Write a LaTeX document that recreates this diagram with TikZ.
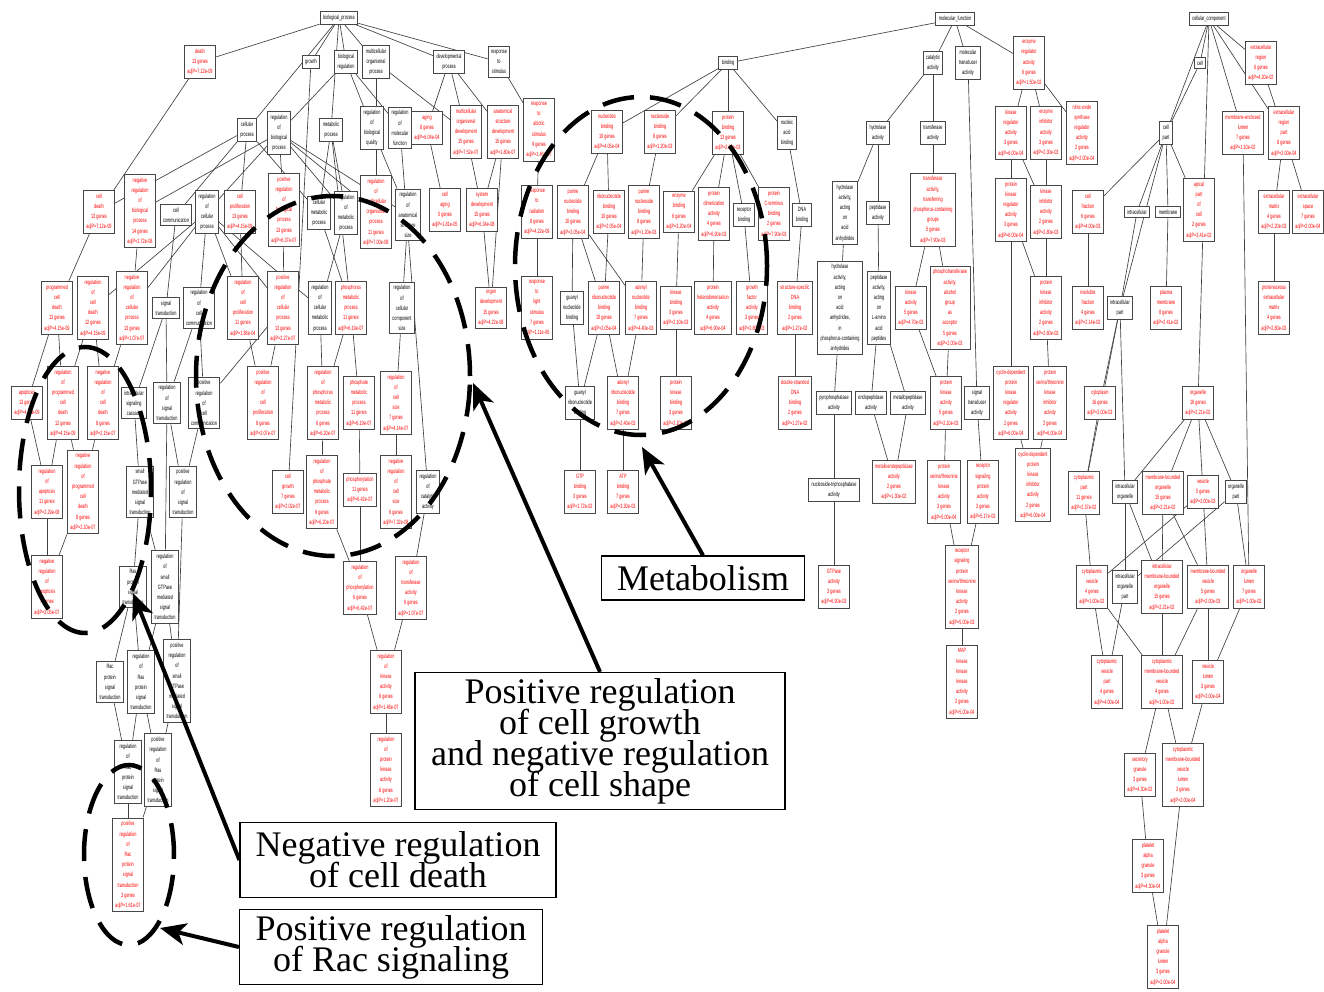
\documentclass[tikz,border=0pt]{standalone}
\usepackage{fontspec}
\setmainfont{Liberation Serif}
\newfontfamily\nf[FakeStretch=0.62]{Liberation Sans}
\newcommand\annfont{\fontsize{36}{31}\selectfont\lineskiplimit=-60pt\relax}
\usetikzlibrary{arrows.meta}
\pgfdeclarelayer{edgelayer}
\pgfsetlayers{edgelayer,main}
\begin{document}
\begin{tikzpicture}[x=1pt,y=-1pt,
 gb/.style={draw=black!72,line width=1pt,fill=white,align=center,font=\nf\fontsize{6.2}{10.2}\selectfont,inner xsep=3pt,inner ysep=3.3pt},
 rb/.style={gb,text=red},
 ed/.style={draw=black!75,line width=0.65pt},
 dsh/.style={line width=4.5pt,dash pattern=on 32pt off 16pt},
 arr/.style={line width=4pt,-{Stealth[length=26pt,width=22pt,inset=7pt]}},
 ann/.style={draw,line width=1.2pt,fill=white,align=center,font=\annfont,inner sep=0pt}]
\useasboundingbox (0,0) rectangle (1324,992);
% ---------------- biological process
\node[gb] (bp) at (339,18) {biological\_process};
\node[rb] (death) at (200,62) {death\\13 genes\\adjP=7.12e-09};
\node[gb] (growth) at (311,62) {growth};
\node[gb] (bioreg) at (346,62) {biological\\regulation};
\node[gb] (multorg) at (376,62) {multicellular\\organismal\\process};
\node[gb] (devproc) at (449,62) {developmental\\process};
\node[gb] (resp) at (499,62) {response\\to\\stimulus};
\node[gb] (cellproc) at (247,130) {cellular\\process};
\node[gb] (regbp) at (279,133) {regulation\\of\\biological\\process};
\node[gb] (metab) at (331,130) {metabolic\\process};
\node[gb] (regbq) at (372,128) {regulation\\of\\biological\\quality};
\node[gb] (regmf) at (400,128) {regulation\\of\\molecular\\function};
\node[rb] (aging) at (427,128) {aging\\8 genes\\adjP=6.04e-04};
\node[rb] (multdev) at (466,132) {multicellular\\organismal\\development\\15 genes\\adjP=7.52e-07};
\node[rb] (anatdev) at (503,132) {anatomical\\structure\\development\\15 genes\\adjP=1.80e-07};
\node[rb] (respabio) at (539,130) {response\\to\\abiotic\\stimulus\\9 genes\\adjP=1.46e-07};
\node[rb] (celldeath) at (99,212) {cell\\death\\13 genes\\adjP=7.12e-09};
\node[rb] (negregbp) at (140,211) {negative\\regulation\\of\\biological\\process\\14 genes\\adjP=2.72e-08};
\node[gb] (cellcomm) at (176,215) {cell\\communication};
\node[gb] (regcellproc) at (207,212) {regulation\\of\\cellular\\process};
\node[rb] (cellprolif) at (240,212) {cell\\proliferation\\13 genes\\adjP=4.15e-09};
\node[rb] (posregbp) at (284,210) {positive\\regulation\\of\\biological\\process\\13 genes\\adjP=6.37e-07};
\node[gb] (cellmetab) at (319,213) {cellular\\metabolic\\process};
\node[gb] (regmetab) at (346,213) {regulation\\of\\metabolic\\process};
\node[rb] (regmultorg) at (376,212) {regulation\\of\\multicellular\\organismal\\process\\11 genes\\adjP=7.00e-08};
\node[gb] (reganat) at (408,215) {regulation\\of\\anatomical\\structure\\size};
\node[rb] (cellaging) at (445,210) {cell\\aging\\5 genes\\adjP=1.81e-05};
\node[rb] (sysdev) at (482,210) {system\\development\\15 genes\\adjP=6.34e-08};
\node[rb] (resprad) at (537,212) {response\\to\\radiation\\8 genes\\adjP=4.22e-09};
\node[rb] (progcelldeath) at (57,308) {programmed\\cell\\death\\13 genes\\adjP=4.15e-09};
\node[rb] (regcelldeath) at (93,308) {regulation\\of\\cell\\death\\12 genes\\adjP=4.15e-09};
\node[rb] (negregcellproc) at (132,308) {negative\\regulation\\of\\cellular\\process\\13 genes\\adjP=1.07e-07};
\node[gb] (sigtrans) at (166,308) {signal\\transduction};
\node[gb] (regcellcomm) at (199,308) {regulation\\of\\cell\\communication};
\node[rb] (regcellprolif) at (243,308) {regulation\\of\\cell\\proliferation\\11 genes\\adjP=1.86e-04};
\node[rb] (posregcellproc) at (283,308) {positive\\regulation\\of\\cellular\\process\\13 genes\\adjP=2.27e-07};
\node[gb] (regcellmetab) at (320,308) {regulation\\of\\cellular\\metabolic\\process};
\node[rb] (phosmetab) at (351,308) {phosphorus\\metabolic\\process\\11 genes\\adjP=6.19e-07};
\node[gb] (regcellcompsize) at (402,308) {regulation\\of\\cellular\\component\\size};
\node[rb] (organdev) at (491,308) {organ\\development\\15 genes\\adjP=4.22e-08};
\node[rb] (resplight) at (537,308) {response\\to\\light\\stimulus\\7 genes\\adjP=1.11e-06};
\node[rb] (apoptosis) at (27,403) {apoptosis\\13 genes\\adjP=4.15e-09};
\node[rb] (regprogcelldeath) at (63,403) {regulation\\of\\programmed\\cell\\death\\12 genes\\adjP=4.15e-09};
\node[rb] (negregcelldeath) at (103,403) {negative\\regulation\\of\\cell\\death\\8 genes\\adjP=2.15e-07};
\node[gb] (intracellsig) at (134,403) {intracellular\\signaling\\cascade};
\node[gb] (regsigtrans) at (167,403) {regulation\\of\\signal\\transduction};
\node[gb] (posregcellcomm) at (204,403) {positive\\regulation\\of\\cell\\communication};
\node[rb] (posregcellprolif) at (263,403) {positive\\regulation\\of\\cell\\proliferation\\8 genes\\adjP=2.07e-07};
\node[rb] (regphosmetab) at (323,403) {regulation\\of\\phosphorus\\metabolic\\process\\6 genes\\adjP=6.20e-07};
\node[rb] (phosphatemetab) at (359,403) {phosphate\\metabolic\\process\\11 genes\\adjP=6.19e-07};
\node[rb] (regcellsize) at (396,403) {regulation\\of\\cell\\size\\7 genes\\adjP=4.14e-07};
\node[rb] (regapoptosis) at (47,492) {regulation\\of\\apoptosis\\11 genes\\adjP=2.29e-08};
\node[rb] (negregprogcelldeath) at (83,492) {negative\\regulation\\of\\programmed\\cell\\death\\8 genes\\adjP=2.10e-07};
\node[gb] (smallgtpase) at (140,492) {small\\GTPase\\mediated\\signal\\transduction};
\node[gb] (posregsigtrans) at (183,492) {positive\\regulation\\of\\signal\\transduction};
\node[rb] (cellgrowth) at (288,492) {cell\\growth\\7 genes\\adjP=2.02e-07};
\node[rb] (regphosphatemetab) at (322,492) {regulation\\of\\phosphate\\metabolic\\process\\6 genes\\adjP=6.20e-07};
\node[rb] (phosphorylation) at (360,490) {phosphorylation\\11 genes\\adjP=6.42e-07};
\node[rb] (negregcellsize) at (396,492) {negative\\regulation\\of\\cell\\size\\6 genes\\adjP=7.32e-08};
\node[gb] (regcatalytic) at (428,492) {regulation\\of\\catalytic\\activity};
\node[rb] (negregapoptosis) at (47,587) {negative\\regulation\\of\\apoptosis\\7 genes\\adjP=2.05e-07};
\node[gb] (rasprot) at (133,587) {Ras\\protein\\signal\\transduction};
\node[gb] (regsmallgtpase) at (165,587) {regulation\\of\\small\\GTPase\\mediated\\signal\\transduction};
\node[rb] (regphosphorylation) at (360,588) {regulation\\of\\phosphorylation\\6 genes\\adjP=6.42e-07};
\node[rb] (regtransferase) at (411,588) {regulation\\of\\transferase\\activity\\6 genes\\adjP=1.07e-07};
\node[gb] (racprot) at (110,682) {Rac\\protein\\signal\\transduction};
\node[gb] (regrasprot) at (141,682) {regulation\\of\\Ras\\protein\\signal\\transduction};
\node[gb] (posregsmallgtpase) at (177,681) {positive\\regulation\\of\\small\\GTPase\\mediated\\signal\\transduction};
\node[rb] (regkinase) at (386,682) {regulation\\of\\kinase\\activity\\6 genes\\adjP=1.48e-07};
\node[gb] (regracprot) at (128,772) {regulation\\of\\Rac\\protein\\signal\\transduction};
\node[gb] (posregrasprot) at (158,770) {positive\\regulation\\of\\Ras\\protein\\signal\\transduction};
\node[rb] (regproteinkinase) at (386,770) {regulation\\of\\protein\\kinase\\activity\\6 genes\\adjP=1.20e-07};
\node[rb] (posregracprot) at (128,865) {positive\\regulation\\of\\Rac\\protein\\signal\\transduction\\3 genes\\adjP=1.61e-07};
% ---------------- molecular function
\node[gb] (mf) at (955,19) {molecular\_function};
\node[gb] (binding) at (728,63) {binding};
\node[gb] (catact) at (933,63) {catalytic\\activity};
\node[gb] (moltrans) at (968,63) {molecular\\transducer\\activity};
\node[rb] (enzreg) at (1029,63) {enzyme\\regulator\\activity\\6 genes\\adjP=1.50e-02};
\node[rb] (nucbind) at (607,132) {nucleotide\\binding\\10 genes\\adjP=4.05e-04};
\node[rb] (nucsbind) at (660,132) {nucleoside\\binding\\8 genes\\adjP=1.20e-03};
\node[rb] (protbind) at (728,133) {protein\\binding\\13 genes\\adjP=2.00e-03};
\node[gb] (nabind) at (787,133) {nucleic\\acid\\binding};
\node[gb] (hydrol) at (878,133) {hydrolase\\activity};
\node[gb] (transf) at (933,133) {transferase\\activity};
\node[rb] (kinasereg) at (1011,133) {kinase\\regulator\\activity\\3 genes\\adjP=6.00e-04};
\node[rb] (enzinhib) at (1046,133) {enzyme\\inhibitor\\activity\\3 genes\\adjP=2.30e-03};
\node[rb] (nitricox) at (1082,133) {nitric-oxide\\synthase\\regulator\\activity\\2 genes\\adjP=2.00e-04};
\node[rb] (purnucbind) at (573,212) {purine\\nucleotide\\binding\\10 genes\\adjP=2.05e-04};
\node[rb] (ribonucbind) at (609,212) {ribonucleotide\\binding\\10 genes\\adjP=2.05e-04};
\node[rb] (purnucsbind) at (644,212) {purine\\nucleoside\\binding\\8 genes\\adjP=1.20e-03};
\node[rb] (enzbind) at (679,212) {enzyme\\binding\\6 genes\\adjP=3.20e-04};
\node[rb] (protdimer) at (714,214) {protein\\dimerization\\activity\\4 genes\\adjP=6.90e-03};
\node[gb] (recbind) at (744,215) {receptor\\binding};
\node[rb] (protcterm) at (774,214) {protein\\C-terminus\\binding\\2 genes\\adjP=7.90e-03};
\node[gb] (dnabind) at (802,215) {DNA\\binding};
\node[gb] (hydrolacid) at (845,213) {hydrolase\\activity,\\acting\\on\\acid\\anhydrides};
\node[gb] (peptidase) at (878,213) {peptidase\\activity};
\node[rb] (transfphos) at (933,210) {transferase\\activity,\\transferring\\phosphorus-containing\\groups\\5 genes\\adjP=7.90e-03};
\node[rb] (protkinreg) at (1011,210) {protein\\kinase\\regulator\\activity\\3 genes\\adjP=6.00e-04};
\node[rb] (kinaseinhib) at (1046,212) {kinase\\inhibitor\\activity\\2 genes\\adjP=2.80e-03};
\node[gb] (guanylnuc) at (572,308) {guanyl\\nucleotide\\binding};
\node[rb] (purribonuc) at (604,308) {purine\\ribonucleotide\\binding\\10 genes\\adjP=2.05e-04};
\node[rb] (adenylnuc) at (641,308) {adenyl\\nucleotide\\binding\\7 genes\\adjP=4.40e-03};
\node[rb] (kinasebind) at (676,308) {kinase\\binding\\3 genes\\adjP=2.10e-03};
\node[rb] (protheterodim) at (713,308) {protein\\heterodimerization\\activity\\4 genes\\adjP=6.90e-04};
\node[rb] (growthfactor) at (752,308) {growth\\factor\\activity\\3 genes\\adjP=2.80e-03};
\node[rb] (ssdna) at (795,308) {structure-specific\\DNA\\binding\\2 genes\\adjP=1.27e-02};
\node[gb] (hydrolphos) at (840,308) {hydrolase\\activity,\\acting\\on\\acid\\anhydrides,\\in\\phosphorus-containing\\anhydrides};
\node[gb] (peptidaseL) at (879,308) {peptidase\\activity,\\acting\\on\\L-amino\\acid\\peptides};
\node[rb] (kinaseact) at (911,308) {kinase\\activity\\5 genes\\adjP=4.70e-03};
\node[rb] (phosphotrans) at (950,308) {phosphotransferase\\activity,\\alcohol\\group\\as\\acceptor\\5 genes\\adjP=2.00e-03};
\node[rb] (protkinasinhib) at (1046,308) {protein\\kinase\\inhibitor\\activity\\2 genes\\adjP=2.80e-03};
\node[gb] (guanylribonuc) at (580,403) {guanyl\\ribonucleotide\\binding};
\node[rb] (adenylribonuc) at (623,403) {adenyl\\ribonucleotide\\binding\\7 genes\\adjP=2.40e-03};
\node[rb] (protkinbind) at (676,403) {protein\\kinase\\binding\\3 genes\\adjP=2.10e-03};
\node[rb] (dsdna) at (795,403) {double-stranded\\DNA\\binding\\2 genes\\adjP=1.27e-02};
\node[gb] (pyrophos) at (834,403) {pyrophosphatase\\activity};
\node[gb] (endopep) at (871,403) {endopeptidase\\activity};
\node[gb] (metallopep) at (908,403) {metallopeptidase\\activity};
\node[rb] (protkinact) at (946,403) {protein\\kinase\\activity\\5 genes\\adjP=2.10e-03};
\node[gb] (sigtransact) at (977,403) {signal\\transducer\\activity};
\node[rb] (cdkreg) at (1011,403) {cyclin-dependent\\protein\\kinase\\regulator\\activity\\2 genes\\adjP=6.00e-04};
\node[rb] (protserthrkinhib) at (1050,403) {protein\\serine/threonine\\kinase\\inhibitor\\activity\\2 genes\\adjP=6.00e-04};
\node[rb] (gtpbind) at (580,492) {GTP\\binding\\3 genes\\adjP=1.72e-02};
\node[rb] (atpbind) at (623,492) {ATP\\binding\\7 genes\\adjP=3.30e-03};
\node[gb] (nucltriphos) at (834,490) {nucleoside-triphosphatase\\activity};
\node[rb] (metalloendopep) at (894,482) {metalloendopeptidase\\activity\\2 genes\\adjP=1.30e-02};
\node[rb] (protserthrkinact) at (944,492) {protein\\serine/threonine\\kinase\\activity\\3 genes\\adjP=5.00e-04};
\node[rb] (recsigprot) at (983,492) {receptor\\signaling\\protein\\activity\\3 genes\\adjP=5.17e-03};
\node[rb] (cdkinhib) at (1033,485) {cyclin-dependent\\protein\\kinase\\inhibitor\\activity\\2 genes\\adjP=6.00e-04};
\node[rb] (gtpase) at (834,587) {GTPase\\activity\\3 genes\\adjP=6.90e-03};
\node[rb] (recsigserthr) at (962,587) {receptor\\signaling\\protein\\serine/threonine\\kinase\\activity\\2 genes\\adjP=5.00e-03};
\node[rb] (mapkkk) at (962,682) {MAP\\kinase\\kinase\\kinase\\activity\\2 genes\\adjP=5.00e-04};
% ---------------- cellular component
\node[gb] (cc) at (1209,19) {cellular\_component};
\node[gb] (cell) at (1200,63) {cell};
\node[rb] (extreg) at (1261,63) {extracellular\\region\\6 genes\\adjP=4.20e-02};
\node[gb] (cellpart) at (1166,133) {cell\\part};
\node[rb] (memlumen) at (1243,133) {membrane-enclosed\\lumen\\7 genes\\adjP=1.10e-02};
\node[rb] (extregpart) at (1284,133) {extracellular\\region\\part\\8 genes\\adjP=2.00e-04};
\node[rb] (cellfrac) at (1088,212) {cell\\fraction\\6 genes\\adjP=4.00e-03};
\node[gb] (intracellular) at (1137,212) {intracellular};
\node[gb] (membrane) at (1168,212) {membrane};
\node[rb] (apicalpart) at (1199,210) {apical\\part\\of\\cell\\2 genes\\adjP=3.41e-02};
\node[rb] (extmatrix) at (1274,212) {extracellular\\matrix\\4 genes\\adjP=2.20e-03};
\node[rb] (extspace) at (1308,212) {extracellular\\space\\7 genes\\adjP=2.00e-04};
\node[rb] (insoluble) at (1088,308) {insoluble\\fraction\\4 genes\\adjP=2.14e-02};
\node[gb] (intracellpart) at (1120,308) {intracellular\\part};
\node[rb] (plasmamem) at (1166,308) {plasma\\membrane\\8 genes\\adjP=2.41e-02};
\node[rb] (proteinaceous) at (1274,308) {proteinaceous\\extracellular\\matrix\\4 genes\\adjP=2.80e-03};
\node[rb] (cytoplasm) at (1100,403) {cytoplasm\\16 genes\\adjP=2.00e-03};
\node[rb] (organelle) at (1198,403) {organelle\\16 genes\\adjP=2.21e-02};
\node[rb] (cytopart) at (1084,493) {cytoplasmic\\part\\11 genes\\adjP=2.37e-02};
\node[gb] (intracellorg) at (1125,492) {intracellular\\organelle};
\node[rb] (membound) at (1163,493) {membrane-bounded\\organelle\\15 genes\\adjP=2.21e-02};
\node[rb] (vesicle) at (1203,492) {vesicle\\5 genes\\adjP=2.00e-03};
\node[gb] (organellepart) at (1236,492) {organelle\\part};
\node[rb] (cytovesicle) at (1092,587) {cytoplasmic\\vesicle\\4 genes\\adjP=1.00e-02};
\node[gb] (intracellorgpart) at (1125,587) {intracellular\\organelle\\part};
\node[rb] (intramembound) at (1162,587) {intracellular\\membrane-bounded\\organelle\\15 genes\\adjP=2.21e-02};
\node[rb] (membvesicle) at (1208,587) {membrane-bounded\\vesicle\\5 genes\\adjP=2.00e-03};
\node[rb] (orglumen) at (1249,587) {organelle\\lumen\\7 genes\\adjP=1.00e-02};
\node[rb] (cytovespart) at (1107,682) {cytoplasmic\\vesicle\\part\\4 genes\\adjP=4.00e-04};
\node[rb] (cytomembves) at (1162,682) {cytoplasmic\\membrane-bounded\\vesicle\\4 genes\\adjP=1.00e-02};
\node[rb] (veslumen) at (1208,682) {vesicle\\lumen\\3 genes\\adjP=2.00e-04};
\node[rb] (secretgran) at (1140,775) {secretory\\granule\\3 genes\\adjP=4.30e-02};
\node[rb] (cytomembveslumen) at (1183,775) {cytoplasmic\\membrane-bounded\\vesicle\\lumen\\3 genes\\adjP=2.00e-04};
\node[rb] (plateletgran) at (1148,866) {platelet\\alpha\\granule\\3 genes\\adjP=4.30e-04};
\node[rb] (plateletlumen) at (1163,957) {platelet\\alpha\\granule\\lumen\\3 genes\\adjP=2.00e-04};
% ---------------- edges
\begin{pgfonlayer}{edgelayer}
\fill[white] (0,0) rectangle (1324,992);
\foreach \a/\b in {bp/death,bp/growth,bp/bioreg,bp/multorg,bp/devproc,bp/resp,bp/cellproc,bp/metab,
 death/celldeath,growth/cellgrowth,bioreg/regbp,bioreg/regbq,bioreg/regmf,multorg/multdev,multorg/regmultorg,
 devproc/aging,devproc/multdev,devproc/anatdev,resp/respabio,
 cellproc/celldeath,cellproc/cellcomm,cellproc/cellprolif,cellproc/cellmetab,
 regbp/negregbp,regbp/regcellproc,regbp/posregbp,regbp/regmetab,regbp/regmultorg,regbp/reganat,
 metab/cellmetab,metab/regmetab,metab/phosmetab,regbq/reganat,regmf/regcatalytic,aging/cellaging,
 multdev/sysdev,anatdev/sysdev,anatdev/organdev,sysdev/organdev,respabio/resprad,resprad/resplight,
 celldeath/progcelldeath,negregbp/negregcellproc,cellcomm/sigtrans,
 regcellproc/regcellcomm,regcellproc/negregcellproc,regcellproc/posregcellproc,regcellproc/regcellprolif,
 regcellproc/regcellmetab,regcellproc/regcelldeath,cellprolif/regcellprolif,posregbp/posregcellproc,
 cellmetab/phosmetab,regmetab/regcellmetab,reganat/regcellcompsize,
 regcelldeath/regprogcelldeath,regcelldeath/negregcelldeath,negregcellproc/negregcelldeath,
 progcelldeath/apoptosis,progcelldeath/regprogcelldeath,sigtrans/intracellsig,sigtrans/regsigtrans,
 regcellcomm/regsigtrans,regcellcomm/posregcellcomm,regcellprolif/posregcellprolif,
 posregcellproc/posregcellprolif,posregcellproc/posregcellcomm,regcellmetab/regphosmetab,
 phosmetab/regphosmetab,phosmetab/phosphatemetab,regcellcompsize/regcellsize,
 regprogcelldeath/regapoptosis,apoptosis/regapoptosis,negregcelldeath/negregprogcelldeath,
 regprogcelldeath/negregprogcelldeath,intracellsig/smallgtpase,regsigtrans/posregsigtrans,
 posregcellcomm/posregsigtrans,regphosmetab/regphosphatemetab,phosphatemetab/phosphorylation,
 regcellsize/negregcellsize,regcatalytic/regtransferase,regapoptosis/negregapoptosis,
 negregprogcelldeath/negregapoptosis,smallgtpase/rasprot,regsigtrans/regsmallgtpase,smallgtpase/regsmallgtpase,
 regphosphatemetab/regphosphorylation,phosphorylation/regphosphorylation,
 regsmallgtpase/posregsmallgtpase,posregsigtrans/posregsmallgtpase,rasprot/racprot,rasprot/regrasprot,
 regsmallgtpase/regrasprot,regphosphorylation/regkinase,regtransferase/regkinase,
 regrasprot/regracprot,racprot/regracprot,posregsmallgtpase/posregrasprot,regrasprot/posregrasprot,
 regkinase/regproteinkinase,regracprot/posregracprot,posregrasprot/posregracprot,
 mf/binding,mf/catact,mf/moltrans,mf/enzreg,binding/nucbind,binding/nucsbind,binding/protbind,binding/nabind,
 nucbind/purnucbind,nucbind/ribonucbind,nucsbind/purnucsbind,protbind/enzbind,protbind/protdimer,
 protbind/recbind,protbind/protcterm,nabind/dnabind,purnucbind/guanylnuc,purnucbind/purribonuc,
 ribonucbind/purribonuc,purnucbind/adenylnuc,purnucsbind/adenylnuc,enzbind/kinasebind,
 protdimer/protheterodim,recbind/growthfactor,dnabind/ssdna,guanylnuc/guanylribonuc,
 purribonuc/guanylribonuc,purribonuc/adenylribonuc,adenylnuc/adenylribonuc,kinasebind/protkinbind,
 ssdna/dsdna,guanylribonuc/gtpbind,adenylribonuc/atpbind,catact/hydrol,catact/transf,
 hydrol/hydrolacid,hydrol/peptidase,transf/transfphos,hydrolacid/hydrolphos,peptidase/peptidaseL,
 transfphos/kinaseact,transfphos/phosphotrans,hydrolphos/pyrophos,peptidaseL/endopep,peptidaseL/metallopep,
 kinaseact/protkinact,phosphotrans/protkinact,moltrans/sigtransact,pyrophos/nucltriphos,
 endopep/metalloendopep,metallopep/metalloendopep,protkinact/protserthrkinact,sigtransact/recsigprot,
 nucltriphos/gtpase,protserthrkinact/recsigserthr,recsigprot/recsigserthr,recsigserthr/mapkkk,
 enzreg/kinasereg,enzreg/enzinhib,enzreg/nitricox,kinasereg/protkinreg,kinasereg/kinaseinhib,
 enzinhib/kinaseinhib,protkinreg/protkinasinhib,kinaseinhib/protkinasinhib,protkinreg/cdkreg,
 protkinasinhib/protserthrkinhib,cdkreg/cdkinhib,protserthrkinhib/cdkinhib,
 cc/cell,cc/extreg,cc/cellpart,cc/memlumen,cc/extregpart,cc/organelle,cell/cellpart,extreg/extregpart,
 cellpart/cellfrac,cellpart/intracellular,cellpart/membrane,cellpart/apicalpart,cellpart/intracellpart,
 extregpart/extmatrix,extregpart/extspace,extmatrix/proteinaceous,memlumen/orglumen,
 cellfrac/insoluble,membrane/plasmamem,intracellular/intracellpart,intracellpart/cytoplasm,
 intracellpart/intracellorg,intracellpart/cytopart,cytoplasm/cytopart,organelle/intracellorg,
 organelle/membound,organelle/vesicle,organelle/organellepart,intracellorg/intracellorgpart,
 intracellorg/intramembound,membound/intramembound,organellepart/intracellorgpart,organellepart/orglumen,
 vesicle/membvesicle,vesicle/cytovesicle,membound/membvesicle,cytopart/cytovesicle,
 cytovesicle/cytovespart,cytovesicle/cytomembves,membvesicle/cytomembves,membvesicle/veslumen,
 orglumen/veslumen,intramembound/cytomembves,intracellorgpart/cytovespart,
 cytomembves/secretgran,cytomembves/cytomembveslumen,veslumen/cytomembveslumen,
 secretgran/plateletgran,plateletgran/plateletlumen,cytomembveslumen/plateletlumen}
 \draw[ed] (\a) -- (\b);
\end{pgfonlayer}
% ---------------- annotations
\draw[dsh] (641,266) ellipse [x radius=126pt, y radius=169pt];
\draw[dsh] (333,376) ellipse [x radius=137pt, y radius=180pt];
\draw[dsh] (85,490) ellipse [x radius=66pt, y radius=143pt];
\draw[dsh] (129,855) ellipse [x radius=45pt, y radius=90pt];
\node[ann,minimum width=203pt,minimum height=44pt] (metbox) at (703,578) {Metabolism};
\node[ann,minimum width=370pt,minimum height=137pt] (growbox) at (600,741) {Positive regulation\\of cell growth\\and negative regulation\\of cell shape};
\node[ann,minimum width=316pt,minimum height=75pt] (deathbox) at (398,860) {Negative regulation\\of cell death};
\node[ann,minimum width=303pt,minimum height=75pt] (racbox) at (391,947) {Positive regulation\\of Rac signaling};
\coordinate (mtip) at (642,447);
\coordinate (gtip) at (473,383);
\coordinate (dtip) at (133,593);
\coordinate (rtip) at (160,928);
\draw[arr] (metbox.north) -- (mtip);
\draw[arr] (growbox.north) -- (gtip);
\draw[arr] (deathbox.west) -- (dtip);
\draw[arr] (racbox.west) -- (rtip);
\end{tikzpicture}
\end{document}
